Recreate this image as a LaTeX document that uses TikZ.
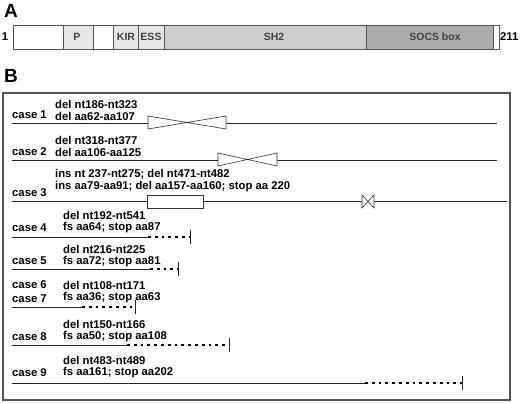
\documentclass[tikz,border=0pt]{standalone}
\usepackage{fontspec}
\setmainfont{Liberation Sans}
\usetikzlibrary{patterns}
\definecolor{segline}{HTML}{555555}
\definecolor{lightseg}{HTML}{E6E6E6}
\definecolor{shtwo}{HTML}{CCCCCC}
\definecolor{socs}{HTML}{ABABAB}
\begin{document}
\begin{tikzpicture}[x=1pt,y=-1pt,
  seg/.style={draw=segline,line width=0.7pt},
  seglab/.style={font=\fontsize{10.5}{12}\selectfont\bfseries,text=black!75,inner sep=0pt},
  panellab/.style={font=\fontsize{19}{20}\selectfont\bfseries,inner sep=0pt,anchor=west},
  casetxt/.style={font=\fontsize{11.3}{13}\selectfont\bfseries,inner sep=0pt,anchor=west},
  caseline/.style={draw=black!85,line width=0.8pt},
  dotline/.style={draw=black,line width=2.8pt,dash pattern=on 2.8pt off 4pt},
  endtick/.style={draw=black!85,line width=0.8pt},
  bowtie/.style={draw=black!80,fill=white,line width=0.6pt},
  insbox/.style={draw=black!80,fill=white,line width=0.6pt}]
\useasboundingbox (0,0) rectangle (520,403);
% ---------- Panel A ----------
\node[panellab] (A) at (4,11) {A};
\node[font=\fontsize{11.3}{13}\selectfont\bfseries,inner sep=0pt] (one) at (5,37) {1};
\node[font=\fontsize{11.3}{13}\selectfont\bfseries,inner sep=0pt,anchor=west] (end211) at (500,37) {211};
\draw[seg,fill=white] (13,25) rectangle (63,49);
\draw[seg,fill=lightseg] (63,25) rectangle (93,49);
\draw[seg,fill=white] (93,25) rectangle (113,49);
\draw[seg,fill=lightseg] (113,25) rectangle (138,49);
\draw[seg,fill=lightseg] (138,25) rectangle (164,49);
\fill[shtwo] (164,25) rectangle (366,49);
\fill[pattern=crosshatch dots,pattern color=white!85!black] (164,25) rectangle (366,49);
\draw[seg] (164,25) rectangle (366,49);
\draw[seg,fill=socs] (366,25) rectangle (493,49);
\draw[seg,fill=white] (493,25) rectangle (499,49);
\node[seglab] (P) at (77,37) {P};
\node[seglab] (KIR) at (126,37) {KIR};
\node[seglab] (ESS) at (151,37) {ESS};
\node[seglab] (SH2) at (274,37) {SH2};
\node[seglab] (SOCS) at (435,37) {SOCS box};
% ---------- Panel B ----------
\node[panellab] (B) at (4,76) {B};
\draw[draw=segline,line width=1.1pt] (3,93) rectangle (510,400);
% case 1
\node[casetxt] (c1) at (12,115) {case 1};
\node[casetxt] (t1a) at (55,104) {del nt186-nt323};
\node[casetxt] (t1b) at (55,116.5) {del aa62-aa107};
\coordinate (s1) at (12,123); \coordinate (b1l) at (148,123); \coordinate (b1r) at (226,123); \coordinate (e1) at (497,123);
\draw[caseline] (s1) -- (b1l);
\draw[caseline] (b1r) -- (e1);
\draw[bowtie] (148,116) -- (226,129) -- (226,116) -- (148,129) -- cycle;
% case 2
\node[casetxt] (c2) at (12,152) {case 2};
\node[casetxt] (t2a) at (55,140.5) {del nt318-nt377};
\node[casetxt] (t2b) at (55,152.5) {del aa106-aa125};
\coordinate (s2) at (12,160); \coordinate (b2l) at (218,160); \coordinate (b2r) at (277,160); \coordinate (e2) at (497,160);
\draw[caseline] (s2) -- (b2l);
\draw[caseline] (b2r) -- (e2);
\draw[bowtie] (218,153) -- (277,166) -- (277,153) -- (218,166) -- cycle;
% case 3
\node[casetxt] (c3) at (12,193) {case 3};
\node[casetxt] (t3a) at (55,174.5) {ins nt 237-nt275; del nt471-nt482};
\node[casetxt] (t3b) at (55,186.5) {ins aa79-aa91; del aa157-aa160; stop aa 220};
\coordinate (s3) at (12,201); \coordinate (r3l) at (147,201); \coordinate (r3r) at (203,201);
\coordinate (b3l) at (362,201); \coordinate (b3r) at (374,201); \coordinate (e3) at (507,201);
\draw[caseline] (s3) -- (r3l);
\draw[caseline] (r3r) -- (b3l);
\draw[caseline] (b3r) -- (e3);
\draw[insbox] (147,195) rectangle (203,208);
\draw[bowtie] (362,195) -- (374,208) -- (374,195) -- (362,208) -- cycle;
% case 4
\node[casetxt] (c4) at (12,228) {case 4};
\node[casetxt] (t4a) at (63,215) {del nt192-nt541};
\node[casetxt] (t4b) at (63,228) {fs aa64; stop aa87};
\coordinate (s4) at (12,237); \coordinate (m4) at (148,237); \coordinate (e4) at (190,237);
\draw[caseline] (s4) -- (m4);
\draw[dotline] (m4) -- (e4);
\draw[endtick] ([yshift=-7pt]e4) -- ([yshift=7pt]e4);
% case 5
\node[casetxt] (c5) at (12,261) {case 5};
\node[casetxt] (t5a) at (63,249.5) {del nt216-nt225};
\node[casetxt] (t5b) at (63,261.5) {fs aa72; stop aa81};
\coordinate (s5) at (12,269); \coordinate (m5) at (150,269); \coordinate (e5) at (178,269);
\draw[caseline] (s5) -- (m5);
\draw[dotline] (m5) -- (e5);
\draw[endtick] ([yshift=-7pt]e5) -- ([yshift=7pt]e5);
% case 6 / 7
\node[casetxt] (c6) at (12,285) {case 6};
\node[casetxt] (c7) at (12,299) {case 7};
\node[casetxt] (t6a) at (63,285) {del nt108-nt171};
\node[casetxt] (t6b) at (63,298) {fs aa36; stop aa63};
\coordinate (s7) at (12,307); \coordinate (m7) at (82,307); \coordinate (e7) at (135,307);
\draw[caseline] (s7) -- (m7);
\draw[dotline] (m7) -- (e7);
\draw[endtick] ([yshift=-7pt]e7) -- ([yshift=7pt]e7);
% case 8
\node[casetxt] (c8) at (12,337) {case 8};
\node[casetxt] (t8a) at (63,324.5) {del nt150-nt166};
\node[casetxt] (t8b) at (63,337) {fs aa50; stop aa108};
\coordinate (s8) at (12,345); \coordinate (m8) at (127,345); \coordinate (e8) at (229,345);
\draw[caseline] (s8) -- (m8);
\draw[dotline] (m8) -- (e8);
\draw[endtick] ([yshift=-7pt]e8) -- ([yshift=7pt]e8);
% case 9
\node[casetxt] (c9) at (12,373) {case 9};
\node[casetxt] (t9a) at (63,360) {del nt483-nt489};
\node[casetxt] (t9b) at (63,373) {fs aa161; stop aa202};
\coordinate (s9) at (12,383); \coordinate (m9) at (365,383); \coordinate (e9) at (462,383);
\draw[caseline] (s9) -- (m9);
\draw[dotline] (m9) -- (e9);
\draw[endtick] ([yshift=-7pt]e9) -- ([yshift=7pt]e9);
\end{tikzpicture}
\end{document}
